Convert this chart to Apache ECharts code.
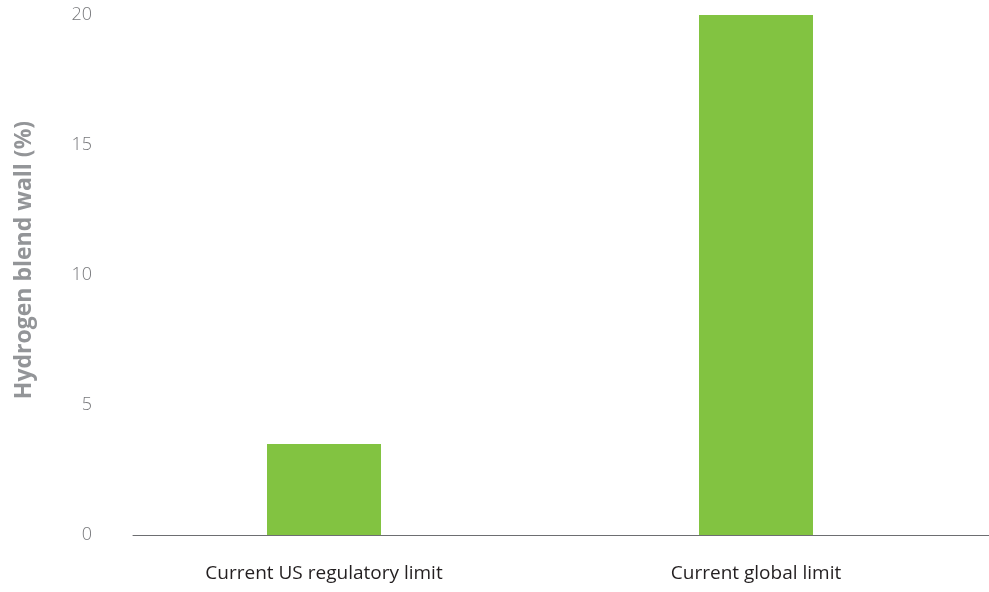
<!DOCTYPE html>
<html><head><meta charset="utf-8">
<script src="https://cdn.jsdelivr.net/npm/echarts@6/dist/echarts.min.js"></script>
<style>html,body{margin:0;padding:0;background:#fff}#c{width:989px;height:592px}</style>
</head><body><div id="c"></div>
<script>
const categories = ['Current US regulatory limit', 'Current global limit'];
const blendWall = [3.5, 20];
const yTicks = [0, 5, 10, 15, 20];

const chart = echarts.init(document.getElementById('c'));
chart.setOption({
  animation: false,
  grid: [
    {left: 108, right: 17, top: 15, bottom: 57},
    {left: 133, right: 0, top: 15, bottom: 57}
  ],
  xAxis: [
    {type: 'category', gridIndex: 0, data: categories,
     axisLine: {show: false}, axisTick: {show: false},
     axisLabel: {color: '#231f20', fontSize: 19, fontFamily: 'Open Sans', margin: 29}},
    {type: 'value', gridIndex: 1, min: 0, max: 1,
     axisLine: {show: true, lineStyle: {color: '#6d6e71', width: 1}},
     axisTick: {show: false}, axisLabel: {show: false}, splitLine: {show: false}}
  ],
  yAxis: [
    {type: 'value', gridIndex: 0, min: 0, max: 20, interval: 5,
     name: 'Hydrogen blend wall (%)', nameLocation: 'middle', nameGap: 72,
     nameTextStyle: {color: '#939598', fontSize: 23, fontWeight: 'bold', fontFamily: 'Open Sans', padding: [0, 0, 0, 30]},
     axisLine: {show: false}, axisTick: {show: false}, splitLine: {show: false},
     axisLabel: {color: '#77787b', fontSize: 18, fontFamily: 'Open Sans', fontWeight: 300, margin: 16,
       formatter: v => yTicks.includes(v) ? String(v) : ''}},
    {type: 'value', gridIndex: 1, show: false, min: 0, max: 1}
  ],
  series: [{
    type: 'bar', xAxisIndex: 0, yAxisIndex: 0, data: blendWall,
    barWidth: 114, itemStyle: {color: '#82c341'}
  }]
});
</script></body></html>
